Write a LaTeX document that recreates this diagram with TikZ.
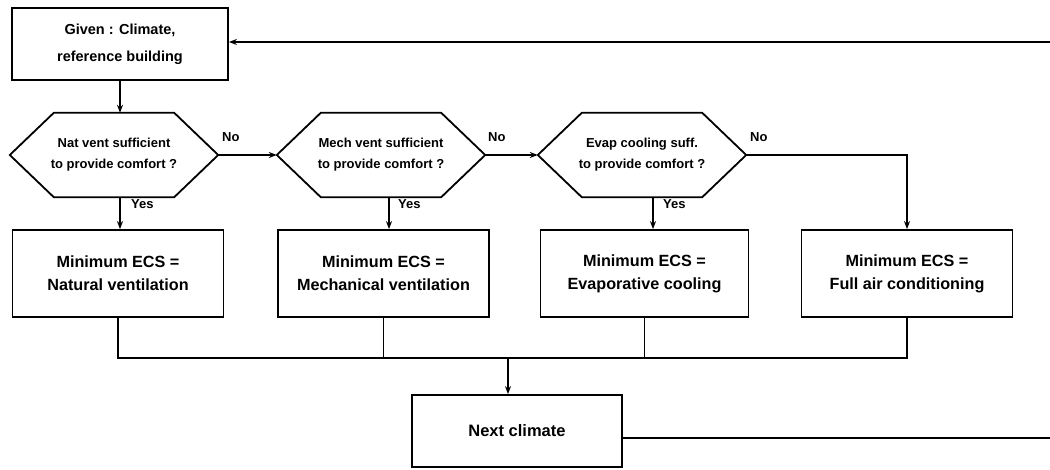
\documentclass[tikz,border=0pt]{standalone}
\usepackage{fontspec}
\setmainfont{Liberation Sans}
\usetikzlibrary{arrows.meta,calc}
\begin{document}
\begin{tikzpicture}[x=1pt,y=-1pt,
  box/.style={draw,line width=1.8pt,rectangle,inner sep=0pt,align=center,
    minimum width=211pt,minimum height=87pt,font=\bfseries\fontsize{16.2}{23}\selectfont},
  hexnode/.style={rectangle,inner sep=0pt,minimum width=208pt,minimum height=84pt,
    align=center,font=\bfseries\fontsize{13}{21}\selectfont},
  hexline/.style={draw,line width=1.8pt,line join=miter},
  conn/.style={line width=1.6pt},
  arr/.style={conn,-{Stealth[length=8pt,width=6pt]}},
  lbl/.style={font=\bfseries\fontsize{13}{15}\selectfont,inner sep=0pt}
]
\useasboundingbox (0,0) rectangle (1050,470);

% nodes
\node[box,minimum width=216pt,minimum height=72pt,
  font=\bfseries\fontsize{14.5}{27}\selectfont] (given) at (120,44) {Given : Climate,\\reference building};

\node[hexnode] (h1) at (114,155) {Nat vent sufficient\\to provide comfort ?};
\node[hexnode] (h2) at (381,155) {Mech vent sufficient\\to provide comfort ?};
\node[hexnode] (h3) at (642,155) {Evap cooling suff.\\to provide comfort ?};
\foreach \h in {h1,h2,h3}{
  \draw[hexline] (\h.west) -- ($(\h.north west)+(44,0)$) -- ($(\h.north east)+(-44,0)$)
    -- (\h.east) -- ($(\h.south east)+(-44,0)$) -- ($(\h.south west)+(44,0)$) -- cycle;
}

\node[box] (b1) at (118,273.5) {Minimum ECS =\\Natural ventilation};
\node[box] (b2) at (383.5,273.5) {Minimum ECS =\\Mechanical ventilation};
\node[box,minimum width=208pt] (b3) at (644.5,273.5) {Minimum ECS =\\Evaporative cooling};
\node[box] (b4) at (907,273.5) {Minimum ECS =\\Full air conditioning};

\node[box,minimum width=210pt,minimum height=72pt,font=\bfseries\fontsize{16.5}{20}\selectfont] (next) at (517,431) {Next climate};

% labels
\node[lbl,anchor=base west] (no1) at (222,142) {No};
\node[lbl,anchor=base west] (no2) at (488,142) {No};
\node[lbl,anchor=base west] (no3) at (750,142) {No};
\node[lbl,anchor=base west] (y1) at (131,209) {Yes};
\node[lbl,anchor=base west] (y2) at (398,209) {Yes};
\node[lbl,anchor=base west] (y3) at (663,209) {Yes};

% coordinates
\coordinate (rt) at (1050,42);
\coordinate (rb) at (1050,438);
\coordinate (j) at (508,358);

% connectors
\draw[arr] (rt) -- (rt -| given.east);
\draw[arr] (given.south) -- (given.south |- h1.north);
\draw[arr] (h1.east) -- (h2.west);
\draw[arr] (h2.east) -- (h3.west);
\draw[arr] (h3.east) -| (b4.north);
\draw[arr] ([xshift=6pt]h1.south) -- ([xshift=6pt]h1.south |- b1.north);
\draw[arr] ([xshift=8pt]h2.south) -- ([xshift=8pt]h2.south |- b2.north);
\draw[arr] ([xshift=11pt]h3.south) -- ([xshift=11pt]h3.south |- b3.north);

\draw[conn] (b1.south) -- (b1.south |- j) -- (b4.south |- j) -- (b4.south);
\draw[conn] (b2.south) -- (b2.south |- j);
\draw[conn] (b3.south) -- (b3.south |- j);
\draw[arr] (j) -- (j |- next.north);
\draw[conn] (next.east |- rb) -- (rb);
\end{tikzpicture}
\end{document}
